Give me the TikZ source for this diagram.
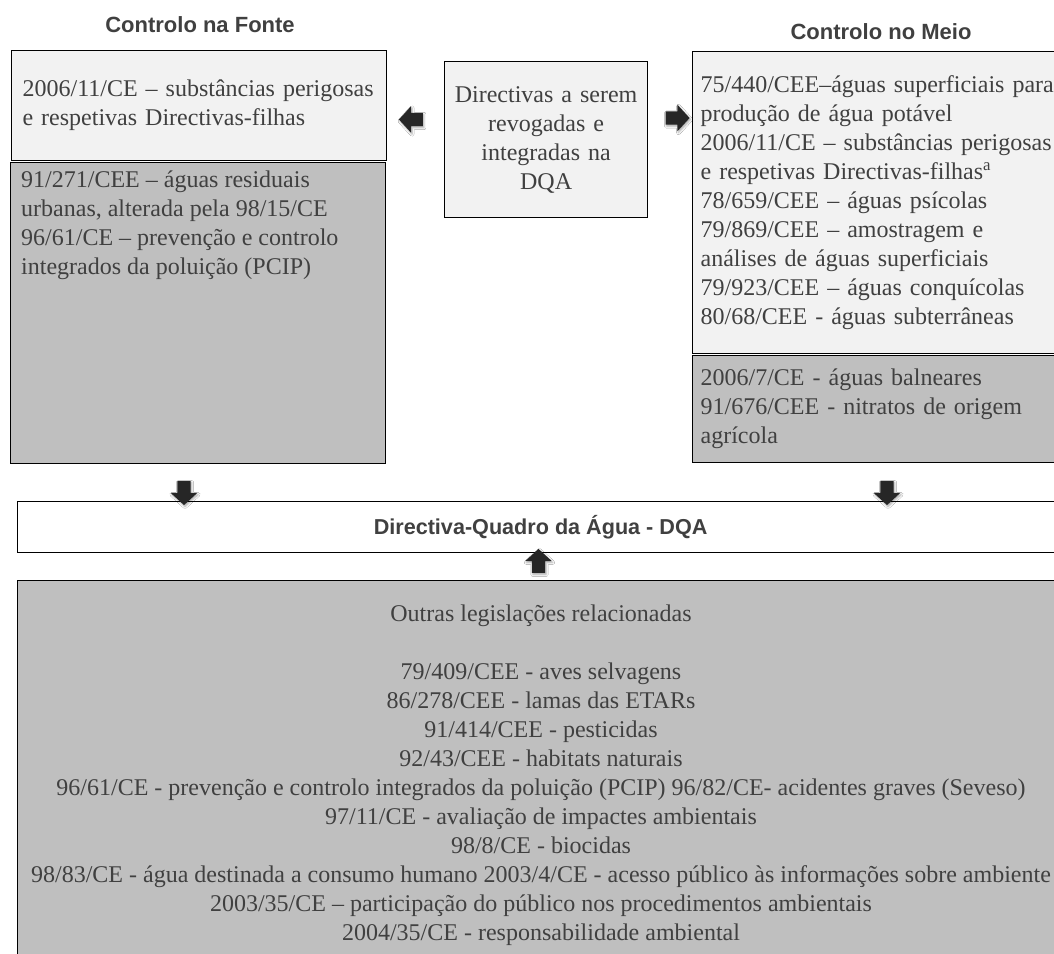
\documentclass[tikz,border=0pt]{standalone}
\usepackage{fontspec}
\setmainfont{Liberation Serif}
\newfontfamily\headfont{Liberation Sans}
\usetikzlibrary{shapes.arrows,shadows.blur}
\definecolor{txtgray}{HTML}{404040}
\definecolor{lightfill}{HTML}{F2F2F2}
\definecolor{darkfill}{HTML}{BFBFBF}
\definecolor{arrowfill}{HTML}{262626}
\begin{document}
\begin{tikzpicture}[x=1pt,y=1pt,
  box/.style={draw=black, line width=1.2pt, rectangle, anchor=north west,
    inner ysep=0pt, text=txtgray, font=\fontsize{24}{29}\selectfont},
  lightbox/.style={box, fill=lightfill},
  darkbox/.style={box, fill=darkfill},
  plaintext/.style={inner sep=0pt, text=txtgray, font=\fontsize{24}{29}\selectfont},
  heading/.style={inner sep=0pt, text=txtgray, font=\headfont\bfseries\fontsize{22}{26}\selectfont},
  blockarrow/.style={single arrow, fill=arrowfill, draw=none,
    inner xsep=0pt, inner ysep=6.5pt,
    minimum height=24pt, minimum width=26pt, single arrow head extend=6.5pt,
    single arrow tip angle=95,
    blur shadow={shadow xshift=1pt, shadow yshift=-1.5pt, shadow blur radius=2pt, shadow opacity=35}},
]
\path[use as bounding box] (0,0) rectangle (1054,-953);
\clip (0,0) rectangle (1054,-953);
\fill[white] (0,0) rectangle (1054,-953);

% column headings
\node[heading] (hFonte) at (200,-25) {Controlo na Fonte};
\node[heading] (hMeio) at (881,-32) {Controlo no Meio};

% source control
\node[lightbox, minimum width=375pt, minimum height=110pt, inner xsep=11pt,
  text width=353pt, align=left] (lt) at (11,-50)
  {2006/11/CE – substâncias perigosas\\e respetivas Directivas-filhas};
\node[darkbox, minimum width=375pt, minimum height=301pt] (lb) at (10,-162) {};
\node[plaintext, anchor=north west, align=left] (lbTxt)
  at ([xshift=11pt,yshift=-8.5pt]lb.north west)
  {91/271/CEE – águas residuais\\urbanas, alterada pela 98/15/CE\\96/61/CE – prevenção e controlo\\integrados da poluição (PCIP)};

% directives to be repealed
\node[lightbox, minimum width=203pt, minimum height=156pt, inner xsep=6pt,
  text width=191pt, align=center] (mid) at (444,-61)
  {Directivas a serem\\revogadas e\\integradas na\\DQA};

% environment control
\node[lightbox, minimum width=430pt, minimum height=302pt, inner xsep=8pt,
  text width=414pt, align=left] (rt) at (692,-51)
  {\makebox[355pt][s]{75/440/CEE–águas superficiais para}\\
   produção de água potável\\
   \makebox[360pt][s]{2006/11/CE – substâncias perigosas}\\
   e respetivas Directivas-filhas\textsuperscript{a}\\
   78/659/CEE – águas psícolas\\
   79/869/CEE – amostragem e\\
   análises de águas superficiais\\
   79/923/CEE – águas conquícolas\\
   80/68/CEE - águas subterrâneas};
\node[darkbox, minimum width=430pt, minimum height=107pt, inner xsep=8pt,
  text width=414pt, align=left] (rb) at (692,-355)
  {2006/7/CE - águas balneares\\91/676/CEE - nitratos de origem\\agrícola};

% framework directive
\node[box, fill=white, minimum width=1046pt, minimum height=51pt,
  font=\headfont\bfseries\fontsize{21.6}{25}\selectfont] (dqa) at (17,-501)
  {Directiva-Quadro da Água - DQA};

% related legislation
\node[darkbox, minimum width=1046pt, minimum height=420pt] (bot) at (17,-580) {};
\node[plaintext, anchor=north, align=center] (botTxt) at (541,-605)
  {Outras legislações relacionadas\\[29pt]
   79/409/CEE - aves selvagens\\
   86/278/CEE - lamas das ETARs\\
   91/414/CEE - pesticidas\\
   92/43/CEE - habitats naturais\\
   96/61/CE - prevenção e controlo integrados da poluição (PCIP) 96/82/CE- acidentes graves (Seveso)\\
   97/11/CE - avaliação de impactes ambientais\\
   98/8/CE - biocidas\\
   98/83/CE - água destinada a consumo humano 2003/4/CE - acesso público às informações sobre ambiente\\
   2003/35/CE – participação do público nos procedimentos ambientais\\
   2004/35/CE - responsabilidade ambiental};

% block arrows
\node[blockarrow, rotate=180] (arrL) at (414,-119.5) {};
\node[blockarrow] (arrR) at (674.5,-118) {};
\node[blockarrow, rotate=-90] (arrDL) at (184,-490) {};
\node[blockarrow, rotate=-90] (arrDR) at (887,-490) {};
\node[blockarrow, rotate=90] (arrU) at (538.5,-564) {};
\end{tikzpicture}
\end{document}
